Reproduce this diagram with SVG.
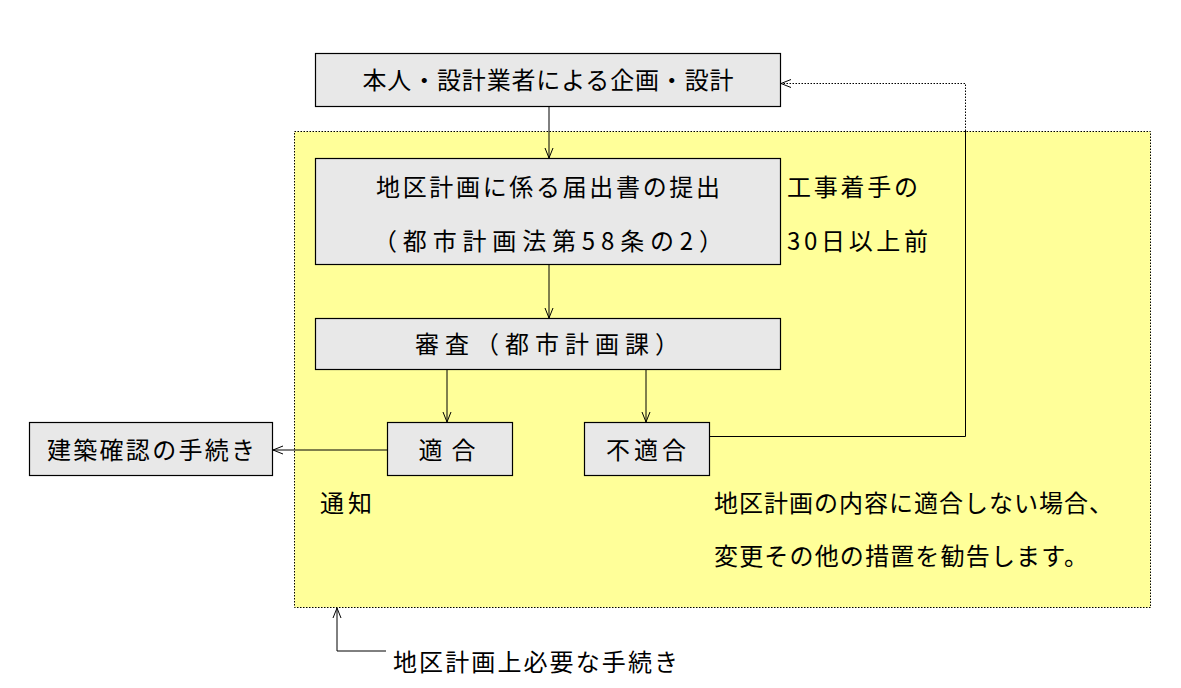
<svg xmlns="http://www.w3.org/2000/svg" width="1181" height="688" viewBox="0 0 1181 688">
<style>
.box{fill:#e8e8e8;stroke:#000;stroke-width:1.2}
.t{font-family:"MS PGothic","Noto Sans CJK JP","Noto Sans",sans-serif;font-size:24px;fill:#000}
.c{text-anchor:middle}
.ln{fill:none;stroke:#000;stroke-width:1}
.dot{fill:none;stroke:#000;stroke-width:1;stroke-dasharray:1.5 1.5}
</style>
<defs>
<marker id="ah" viewBox="0 0 10 10" refX="10" refY="5" markerWidth="10" markerHeight="10" markerUnits="userSpaceOnUse" orient="auto">
<path d="M0,1 L10,5 L0,9" fill="none" stroke="#000" stroke-width="1"/>
</marker>
</defs>
<rect width="1181" height="688" fill="#fff"/>
<g id="region">
<rect x="294.5" y="131.5" width="856" height="476" fill="#ffff99" stroke="#000" stroke-width="1" stroke-dasharray="1.5 1.5"/>
</g>
<g id="connectors">
<line class="ln" x1="549" y1="106" x2="549" y2="158" marker-end="url(#ah)"/>
<line class="ln" x1="549" y1="264" x2="549" y2="318" marker-end="url(#ah)"/>
<line class="ln" x1="447" y1="369" x2="447" y2="422" marker-end="url(#ah)"/>
<line class="ln" x1="646" y1="369" x2="646" y2="422" marker-end="url(#ah)"/>
<line class="ln" x1="387" y1="450" x2="273" y2="450" marker-end="url(#ah)"/>
<polyline class="ln" points="709,436.5 965.5,436.5 965.5,131"/>
<polyline class="dot" points="965.5,131 965.5,83.5 781,83.5" marker-end="url(#ah)"/>
<polyline class="ln" stroke="#555" points="386,651 337,651 337,608" marker-end="url(#ah)"/>
</g>
<g id="n1"><rect class="box" x="315.5" y="53.5" width="465" height="53"/><text class="t c" x="548" y="89" textLength="371" lengthAdjust="spacing">本人・設計業者による企画・設計</text></g>
<g id="n2"><rect class="box" x="315.5" y="158.5" width="465" height="106"/><text class="t c" x="548" y="196" textLength="344" lengthAdjust="spacing">地区計画に係る届出書の提出</text><text class="t c" x="548" y="250" textLength="350" lengthAdjust="spacing">（都市計画法第58条の2）</text></g>
<g id="n3"><rect class="box" x="315.5" y="318.5" width="465" height="51"/><text class="t c" x="547" y="353" textLength="264" lengthAdjust="spacing">審査（都市計画課）</text></g>
<g id="n4"><rect class="box" x="387.5" y="422.5" width="125" height="53"/><text class="t c" x="447" y="459" textLength="57" lengthAdjust="spacing">適合</text></g>
<g id="n5"><rect class="box" x="584.5" y="422.5" width="125" height="53"/><text class="t c" x="646" y="459" textLength="80" lengthAdjust="spacing">不適合</text></g>
<g id="n6"><rect class="box" x="29.5" y="422.5" width="243" height="53"/><text class="t c" x="151" y="459" textLength="208" lengthAdjust="spacing">建築確認の手続き</text></g>
<g id="labels">
<text class="t" x="787" y="196" textLength="131" lengthAdjust="spacing">工事着手の</text>
<text class="t" x="787" y="250" textLength="141" lengthAdjust="spacing">30日以上前</text>
<text class="t" x="320" y="512" textLength="52" lengthAdjust="spacing">通知</text>
<text class="t" x="714" y="512" textLength="399" lengthAdjust="spacing">地区計画の内容に適合しない場合、</text>
<text class="t" x="714" y="565" textLength="374" lengthAdjust="spacing">変更その他の措置を勧告します。</text>
<text class="t" x="393" y="671" textLength="285" lengthAdjust="spacing">地区計画上必要な手続き</text>
</g>
</svg>
